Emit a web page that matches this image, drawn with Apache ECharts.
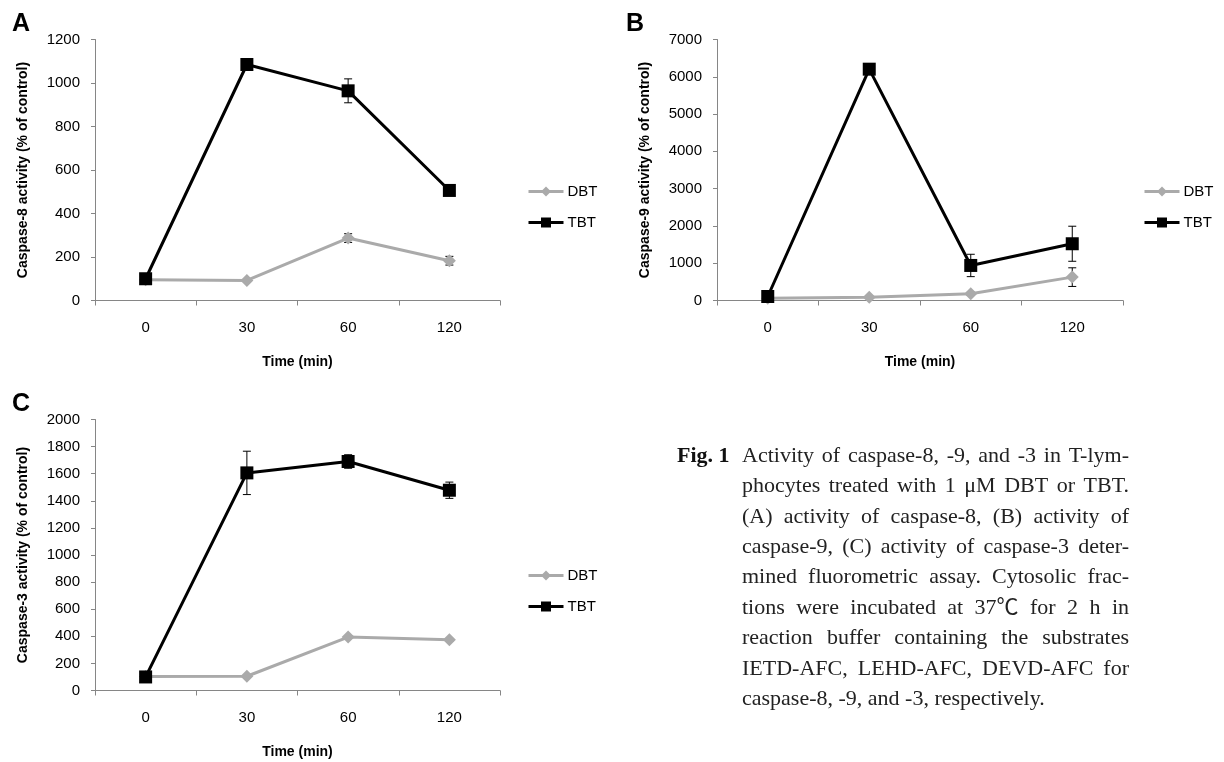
<!DOCTYPE html>
<html>
<head>
<meta charset="utf-8">
<script src="https://cdn.jsdelivr.net/npm/echarts@6/dist/echarts.min.js"></script>
<style>
  html, body { margin: 0; padding: 0; background: #fff; }
  #main { width: 1224px; height: 762px; }
</style>
</head>
<body>
<div id="main"></div>
<script>
// time points (min)
var times = ['0', '30', '60', '120'];

// caspase-8 (% of control)
var c8DBT = [95, 92, 287, 183];
var c8DBTErr = [5, 5, 20, 20];
var c8TBT = [100, 1085, 964, 506];
var c8TBTErr = [5, 15, 55, 15];

// caspase-9
var c9DBT = [60, 90, 180, 627];
var c9DBTErr = [20, 20, 40, 250];
var c9TBT = [107, 6204, 940, 1522];
var c9TBTErr = [30, 60, 300, 470];

// caspase-3
var c3DBT = [103, 105, 394, 374];
var c3DBTErr = [5, 5, 10, 10];
var c3TBT = [100, 1606, 1690, 1478];
var c3TBTErr = [10, 160, 50, 60];

var yMax = [1200, 7000, 2000];
var yStep = [200, 1000, 200];
var yNames = ['Caspase-8 activity (% of control)', 'Caspase-9 activity (% of control)', 'Caspase-3 activity (% of control)'];

var captionHead = 'Fig. 1';
var captionLines = [
  'Activity of caspase-8, -9, and -3 in T-lym-',
  'phocytes treated with 1 μM DBT or TBT.',
  '(A) activity of caspase-8, (B) activity of',
  'caspase-9, (C) activity of caspase-3 deter-',
  'mined fluorometric assay. Cytosolic frac-',
  'tions were incubated at 37℃ for 2 h in',
  'reaction buffer containing the substrates',
  'IETD-AFC, LEHD-AFC, DEVD-AFC for',
  'caspase-8, -9, and -3, respectively.'
];

var SANS = '"Liberation Sans", Arial, sans-serif';
var CAP_FONT = '22px "Liberation Serif", "Noto Sans CJK SC", serif';
var AXIS_C = '#868686';
var GRAY = '#aaaaaa';

var chart = echarts.init(document.getElementById('main'));

var grids = [
  { left: 95, top: 39.5, width: 405, height: 261 },
  { left: 717, top: 39.5, width: 406, height: 261 },
  { left: 95, top: 419.5, width: 405, height: 271 }
];

var xAxes = [], yAxes = [];
for (var g = 0; g < 3; g++) {
  xAxes.push({
    type: 'category', gridIndex: g, data: times, boundaryGap: true,
    name: 'Time (min)', nameLocation: 'middle', nameGap: 55,
    nameTextStyle: { fontFamily: SANS, fontWeight: 'bold', fontSize: 14, color: '#000' },
    axisLine: { lineStyle: { color: AXIS_C, width: 1 } },
    axisTick: { show: true, length: 5, lineStyle: { color: AXIS_C } },
    axisLabel: { color: '#000', fontFamily: SANS, fontSize: 15, margin: 20 },
    splitLine: { show: false }
  });
  yAxes.push({
    type: 'value', gridIndex: g, min: 0, max: yMax[g], interval: yStep[g],
    name: yNames[g], nameLocation: 'middle', nameGap: 65, nameRotate: 90,
    nameTextStyle: { fontFamily: SANS, fontWeight: 'bold', fontSize: 14, color: '#000' },
    axisLine: { show: true, lineStyle: { color: AXIS_C, width: 1 } },
    axisTick: { show: true, length: 4, lineStyle: { color: AXIS_C } },
    axisLabel: { color: '#000', fontFamily: SANS, fontSize: 15, margin: 15,
      formatter: function (v) { return String(v); } },
    splitLine: { show: false }
  });
}

function errSeries(idx, vals, errs) {
  return {
    type: 'custom', xAxisIndex: idx, yAxisIndex: idx, z: 1, silent: true,
    encode: { x: 0, y: [1, 2] },
    data: vals.map(function (v, i) { return [i, v - errs[i], v + errs[i]]; }),
    renderItem: function (params, api) {
      var lo = api.coord([api.value(0), api.value(1)]);
      var hi = api.coord([api.value(0), api.value(2)]);
      var w = 4;
      var st = { stroke: '#000', lineWidth: 1 };
      return {
        type: 'group',
        children: [
          { type: 'line', shape: { x1: lo[0], y1: lo[1], x2: hi[0], y2: hi[1] }, style: st },
          { type: 'line', shape: { x1: lo[0] - w, y1: lo[1], x2: lo[0] + w, y2: lo[1] }, style: st },
          { type: 'line', shape: { x1: hi[0] - w, y1: hi[1], x2: hi[0] + w, y2: hi[1] }, style: st }
        ]
      };
    }
  };
}

function dbtLine(idx, vals) {
  return {
    name: 'DBT', type: 'line', xAxisIndex: idx, yAxisIndex: idx, data: vals, z: 3,
    symbol: 'diamond', symbolSize: 13,
    lineStyle: { color: GRAY, width: 3 }, itemStyle: { color: GRAY }
  };
}
function tbtLine(idx, vals) {
  return {
    name: 'TBT', type: 'line', xAxisIndex: idx, yAxisIndex: idx, data: vals, z: 4,
    symbol: 'rect', symbolSize: 13,
    lineStyle: { color: '#000', width: 3 }, itemStyle: { color: '#000' }
  };
}

var series = [
  errSeries(0, c8DBT, c8DBTErr), errSeries(0, c8TBT, c8TBTErr),
  dbtLine(0, c8DBT), tbtLine(0, c8TBT),
  errSeries(1, c9DBT, c9DBTErr), errSeries(1, c9TBT, c9TBTErr),
  dbtLine(1, c9DBT), tbtLine(1, c9TBT),
  errSeries(2, c3DBT, c3DBTErr), errSeries(2, c3TBT, c3TBTErr),
  dbtLine(2, c3DBT), tbtLine(2, c3TBT)
];

function legendAt(left, top) {
  return {
    left: left, top: top, orient: 'vertical', data: ['DBT', 'TBT'], padding: 0,
    itemWidth: 35, itemHeight: 12.5, itemGap: 16, selectedMode: false,
    lineStyle: { width: 3 },
    textStyle: { fontFamily: SANS, fontSize: 15, color: '#000', padding: [0, 0, 0, -1] }
  };
}

// caption, justified word by word
var graphics = [];
var ctx = document.createElement('canvas').getContext('2d');
ctx.font = CAP_FONT;
var capLeft = 742, capRight = 1129, capTop = 456, capStep = 30.4;
captionLines.forEach(function (line, li) {
  var words = line.split(' ');
  var widths = words.map(function (w) { return ctx.measureText(w).width; });
  var total = widths.reduce(function (a, b) { return a + b; }, 0);
  var last = li === captionLines.length - 1;
  var gap = (last || words.length < 2) ? ctx.measureText(' ').width
    : (capRight - capLeft - total) / (words.length - 1);
  var x = capLeft;
  words.forEach(function (w, wi) {
    graphics.push({
      type: 'text', x: x, y: capTop + li * capStep,
      style: { text: w, font: CAP_FONT, fill: '#222', align: 'left', verticalAlign: 'middle', textAlign: 'left', textVerticalAlign: 'middle' }
    });
    x += widths[wi] + gap;
  });
});
graphics.push({
  type: 'text', x: 677, y: capTop,
  style: { text: captionHead, font: 'bold 22px "Liberation Serif", serif', fill: '#111', align: 'left', verticalAlign: 'middle', textAlign: 'left', textVerticalAlign: 'middle' }
});

// panel letters
[['A', 21, 24], ['B', 635, 24], ['C', 21, 404]].forEach(function (p) {
  graphics.push({
    type: 'text', x: p[1], y: p[2],
    style: { text: p[0], font: 'bold 25px ' + SANS, fill: '#000', align: 'center', verticalAlign: 'middle', textAlign: 'center', textVerticalAlign: 'middle' }
  });
});

var option = {
  backgroundColor: '#fff',
  animation: false,
  grid: grids,
  xAxis: xAxes,
  yAxis: yAxes,
  legend: [legendAt(527, 184), legendAt(1143, 184), legendAt(527, 568)],
  series: series,
  graphic: graphics
};
chart.setOption(option);
</script>
</body>
</html>
